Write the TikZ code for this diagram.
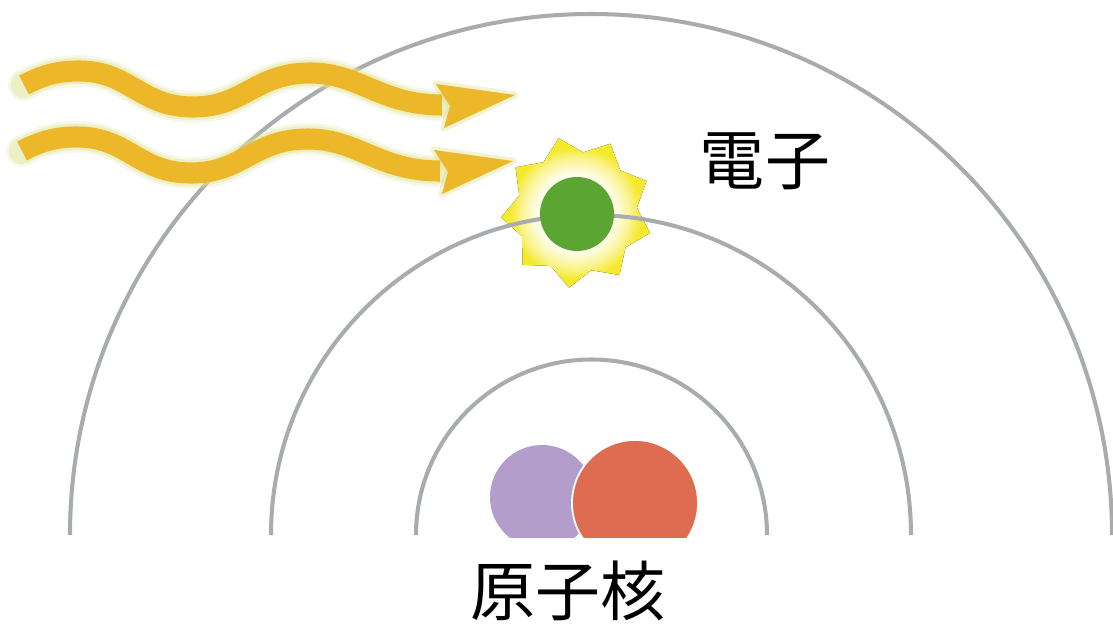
\documentclass[tikz,border=0pt]{standalone}
\usepackage{fontspec}
\newfontfamily\jpfont{Noto Sans CJK JP}
\usetikzlibrary{positioning}

\definecolor{arcgrey}{HTML}{A9ACAE}
\definecolor{wavegold}{HTML}{ECB82A}
\definecolor{haloyellow}{HTML}{E2E59C}
\definecolor{staryellow}{HTML}{F5E92E}
\definecolor{electrongreen}{HTML}{5BA632}
\definecolor{protonred}{HTML}{DD6C51}
\definecolor{neutronpurple}{HTML}{B39ECB}

\pgfdeclareradialshading{starglow}{\pgfpoint{0bp}{0bp}}{%
  color(0bp)=(white); color(13bp)=(white!90!staryellow);
  color(18bp)=(white!50!staryellow); color(22bp)=(staryellow);
  color(50bp)=(staryellow)}

\tikzset{
  orbit/.style={draw=arcgrey, line width=2.3pt},
  wavehalo/.style={draw=haloyellow, line cap=round, line join=round},
  wave/.style={draw=wavegold, line width=12pt},
  tag/.style={font=\jpfont\fontsize{37}{40}\selectfont, text=black, inner sep=0pt},
}

\begin{document}
\begin{tikzpicture}[x=0.02cm, y=-0.02cm]
  \useasboundingbox[fill=white] (0,0) rectangle (1113,625);

  % glowing star behind the electron
  \begin{scope}[shift={(577,212)}]
    \fill[shading=starglow] plot[samples at={0,...,17}]
      (\x*20+16:{ifthenelse(mod(\x,2)==0,76,60)}) -- cycle;
  \end{scope}

  % orbits
  \coordinate (core) at (591,535);
  \draw[orbit] (70,535) arc[start angle=180, end angle=360, radius=521];
  \draw[orbit] (271,535) arc[start angle=180, end angle=360, radius=320];
  \draw[orbit] (416,535) arc[start angle=180, end angle=360, radius=175.5];

  % electron
  \fill[electrongreen] (577,214) circle[radius=37];

  % nucleus, cut off at the base line
  \begin{scope}
    \clip (400,400) rectangle (800,537);
    \fill[neutronpurple] (542,497) circle[radius=52];
    \filldraw[fill=protonred, draw=white, line width=1pt] (635,503) circle[radius=63];
  \end{scope}

  % light waves with a soft halo
  \foreach \dx/\dy in {0/0, -2/66} {
    \begin{scope}[shift={(\dx,\dy)}]
      \foreach \w/\o in {18pt/0.25, 15pt/0.45} {
        \draw[wavehalo, line width=\w, opacity=\o]
          (24,85) .. controls (45,74) and (60,71) .. (79,71)
          .. controls (130,71) and (140,107) .. (193,107)
          .. controls (245,107) and (255,73) .. (310,73)
          .. controls (360,73) and (380,105) .. (440,105);
      }
      \filldraw[wavehalo, fill=haloyellow, line width=4pt, opacity=0.45]
        (436,84) -- (515,95) -- (444,128) -- (450,106) -- cycle;
      \draw[wave] (24,85) .. controls (45,74) and (60,71) .. (79,71)
        .. controls (130,71) and (140,107) .. (193,107)
        .. controls (245,107) and (255,73) .. (310,73)
        .. controls (360,73) and (380,105) .. (442,105);
      \fill[wavegold] (436,84) -- (515,95) -- (444,128) -- (450,106) -- cycle;
    \end{scope}
  }

  % labels
  \node[tag] (electron) at (765,161) {電子};
  \node[tag] (nucleus) at (568,591) {原子核};
\end{tikzpicture}
\end{document}
